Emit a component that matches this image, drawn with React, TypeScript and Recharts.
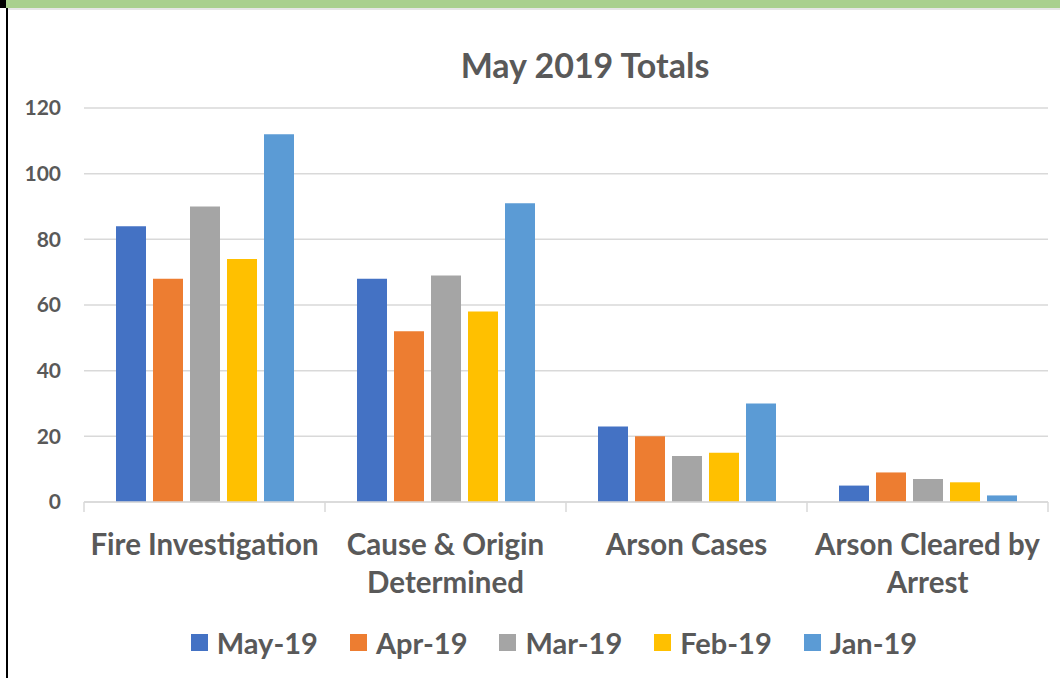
import React from 'react';
import { BarChart, Bar, XAxis, YAxis, CartesianGrid, Legend } from 'recharts';

const categories = ['Fire Investigation', 'Cause & Origin Determined', 'Arson Cases', 'Arson Cleared by Arrest'];
const categoryLines: string[][] = [
  ['Fire Investigation'],
  ['Cause & Origin', 'Determined'],
  ['Arson Cases'],
  ['Arson Cleared by', 'Arrest'],
];
const may19 = [84, 68, 23, 5];
const apr19 = [68, 52, 20, 9];
const mar19 = [90, 69, 14, 7];
const feb19 = [74, 58, 15, 6];
const jan19 = [112, 91, 30, 2];
const yTicks = [0, 20, 40, 60, 80, 100, 120];

const seriesNames = ['May-19', 'Apr-19', 'Mar-19', 'Feb-19', 'Jan-19'];
const seriesColors = ['#4472C4', '#ED7D31', '#A5A5A5', '#FFC000', '#5B9BD5'];
const seriesValues = [may19, apr19, mar19, feb19, jan19];

const data = categories.map((c, i) => {
  const row: Record<string, string | number> = { name: c };
  seriesNames.forEach((s, k) => {
    row[s] = seriesValues[k][i];
  });
  return row;
});

const FONT = 'Lato, "Open Sans", sans-serif';
const TEXT = '#595959';

const CHART_W = 1060;
const CHART_H = 678;
const M_LEFT = 0;
const M_RIGHT = 12;
const Y_W = 84;
const BAND = (CHART_W - M_LEFT - M_RIGHT - Y_W) / categories.length;

const XTick = (props: any) => {
  const { x, y, payload, index } = props;
  const lines = categoryLines[index] || [payload.value];
  const left = x - BAND / 2;
  const right = x + BAND / 2;
  return (
    <g>
      <line x1={left} y1={y - 8} x2={left} y2={y + 2} stroke="#D9D9D9" strokeWidth={1.5} />
      {index === categories.length - 1 && (
        <line x1={right} y1={y - 8} x2={right} y2={y + 2} stroke="#D9D9D9" strokeWidth={1.5} />
      )}
      <text
        x={x}
        y={y + 45}
        textAnchor="middle"
        fill={TEXT}
        fontFamily={FONT}
        fontWeight={700}
        fontSize={29.5}
      >
        {lines.map((l, i) => (
          <tspan key={i} x={x} dy={i === 0 ? 0 : 38}>
            {l}
          </tspan>
        ))}
      </text>
    </g>
  );
};

const LegendContent = () => (
  <div
    style={{
      display: 'flex',
      justifyContent: 'center',
      alignItems: 'center',
      fontFamily: FONT,
      fontWeight: 700,
      fontSize: 29,
      color: TEXT,
      paddingLeft: 48,
    }}
  >
    {seriesNames.map((s, i) => (
      <div key={s} style={{ display: 'flex', alignItems: 'center', marginRight: i < seriesNames.length - 1 ? 32 : 0 }}>
        <div style={{ width: 17, height: 17, background: seriesColors[i], marginRight: 9 }} />
        <span>{s}</span>
      </div>
    ))}
  </div>
);

export default function App() {
  return (
    <div style={{ position: 'absolute', left: 0, top: 0, width: CHART_W, height: CHART_H, background: '#fff', overflow: 'hidden' }}>
      <div style={{ position: 'absolute', left: 0, top: 0, width: 6, height: 8, background: '#000' }} />
      <div style={{ position: 'absolute', left: 6, top: 0, width: 1054, height: 8, background: '#A9D08E' }} />
      <div style={{ position: 'absolute', left: 6, top: 8, width: 1054, height: 2, background: '#E6E6E6' }} />
      <div style={{ position: 'absolute', left: 6, top: 8, width: 2, height: 670, background: '#000' }} />
      <div
        style={{
          position: 'absolute',
          left: 0,
          width: 1170,
          top: 43,
          textAlign: 'center',
          fontFamily: FONT,
          fontWeight: 700,
          fontSize: 34,
          color: TEXT,
          lineHeight: '44px',
        }}
      >
        May 2019 Totals
      </div>
      <div style={{ position: 'absolute', left: 0, top: 0 }}>
        <BarChart
          width={CHART_W}
          height={CHART_H}
          data={data}
          margin={{ top: 108, right: M_RIGHT, left: M_LEFT, bottom: 76 }}
          barCategoryGap={32}
          barGap={7}
        >
          <CartesianGrid vertical={false} stroke="#D9D9D9" strokeWidth={1.5} />
          <XAxis
            dataKey="name"
            stroke="#D9D9D9"
            strokeWidth={1.5}
            tickLine={false}
            tick={<XTick />}
            height={100}
            interval={0}
          />
          <YAxis
            domain={[0, 120]}
            ticks={yTicks}
            width={Y_W}
            axisLine={false}
            tickLine={false}
            tickSize={0}
            tickMargin={23}
            tick={{ fill: TEXT, fontFamily: FONT, fontWeight: 700, fontSize: 21 }}
          />
          <Legend verticalAlign="middle" wrapperStyle={{ top: 625, left: 0, width: CHART_W }} content={<LegendContent />} />
          {seriesNames.map((s, i) => (
            <Bar key={s} dataKey={s} fill={seriesColors[i]} isAnimationActive={false} />
          ))}
        </BarChart>
      </div>
    </div>
  );
}
